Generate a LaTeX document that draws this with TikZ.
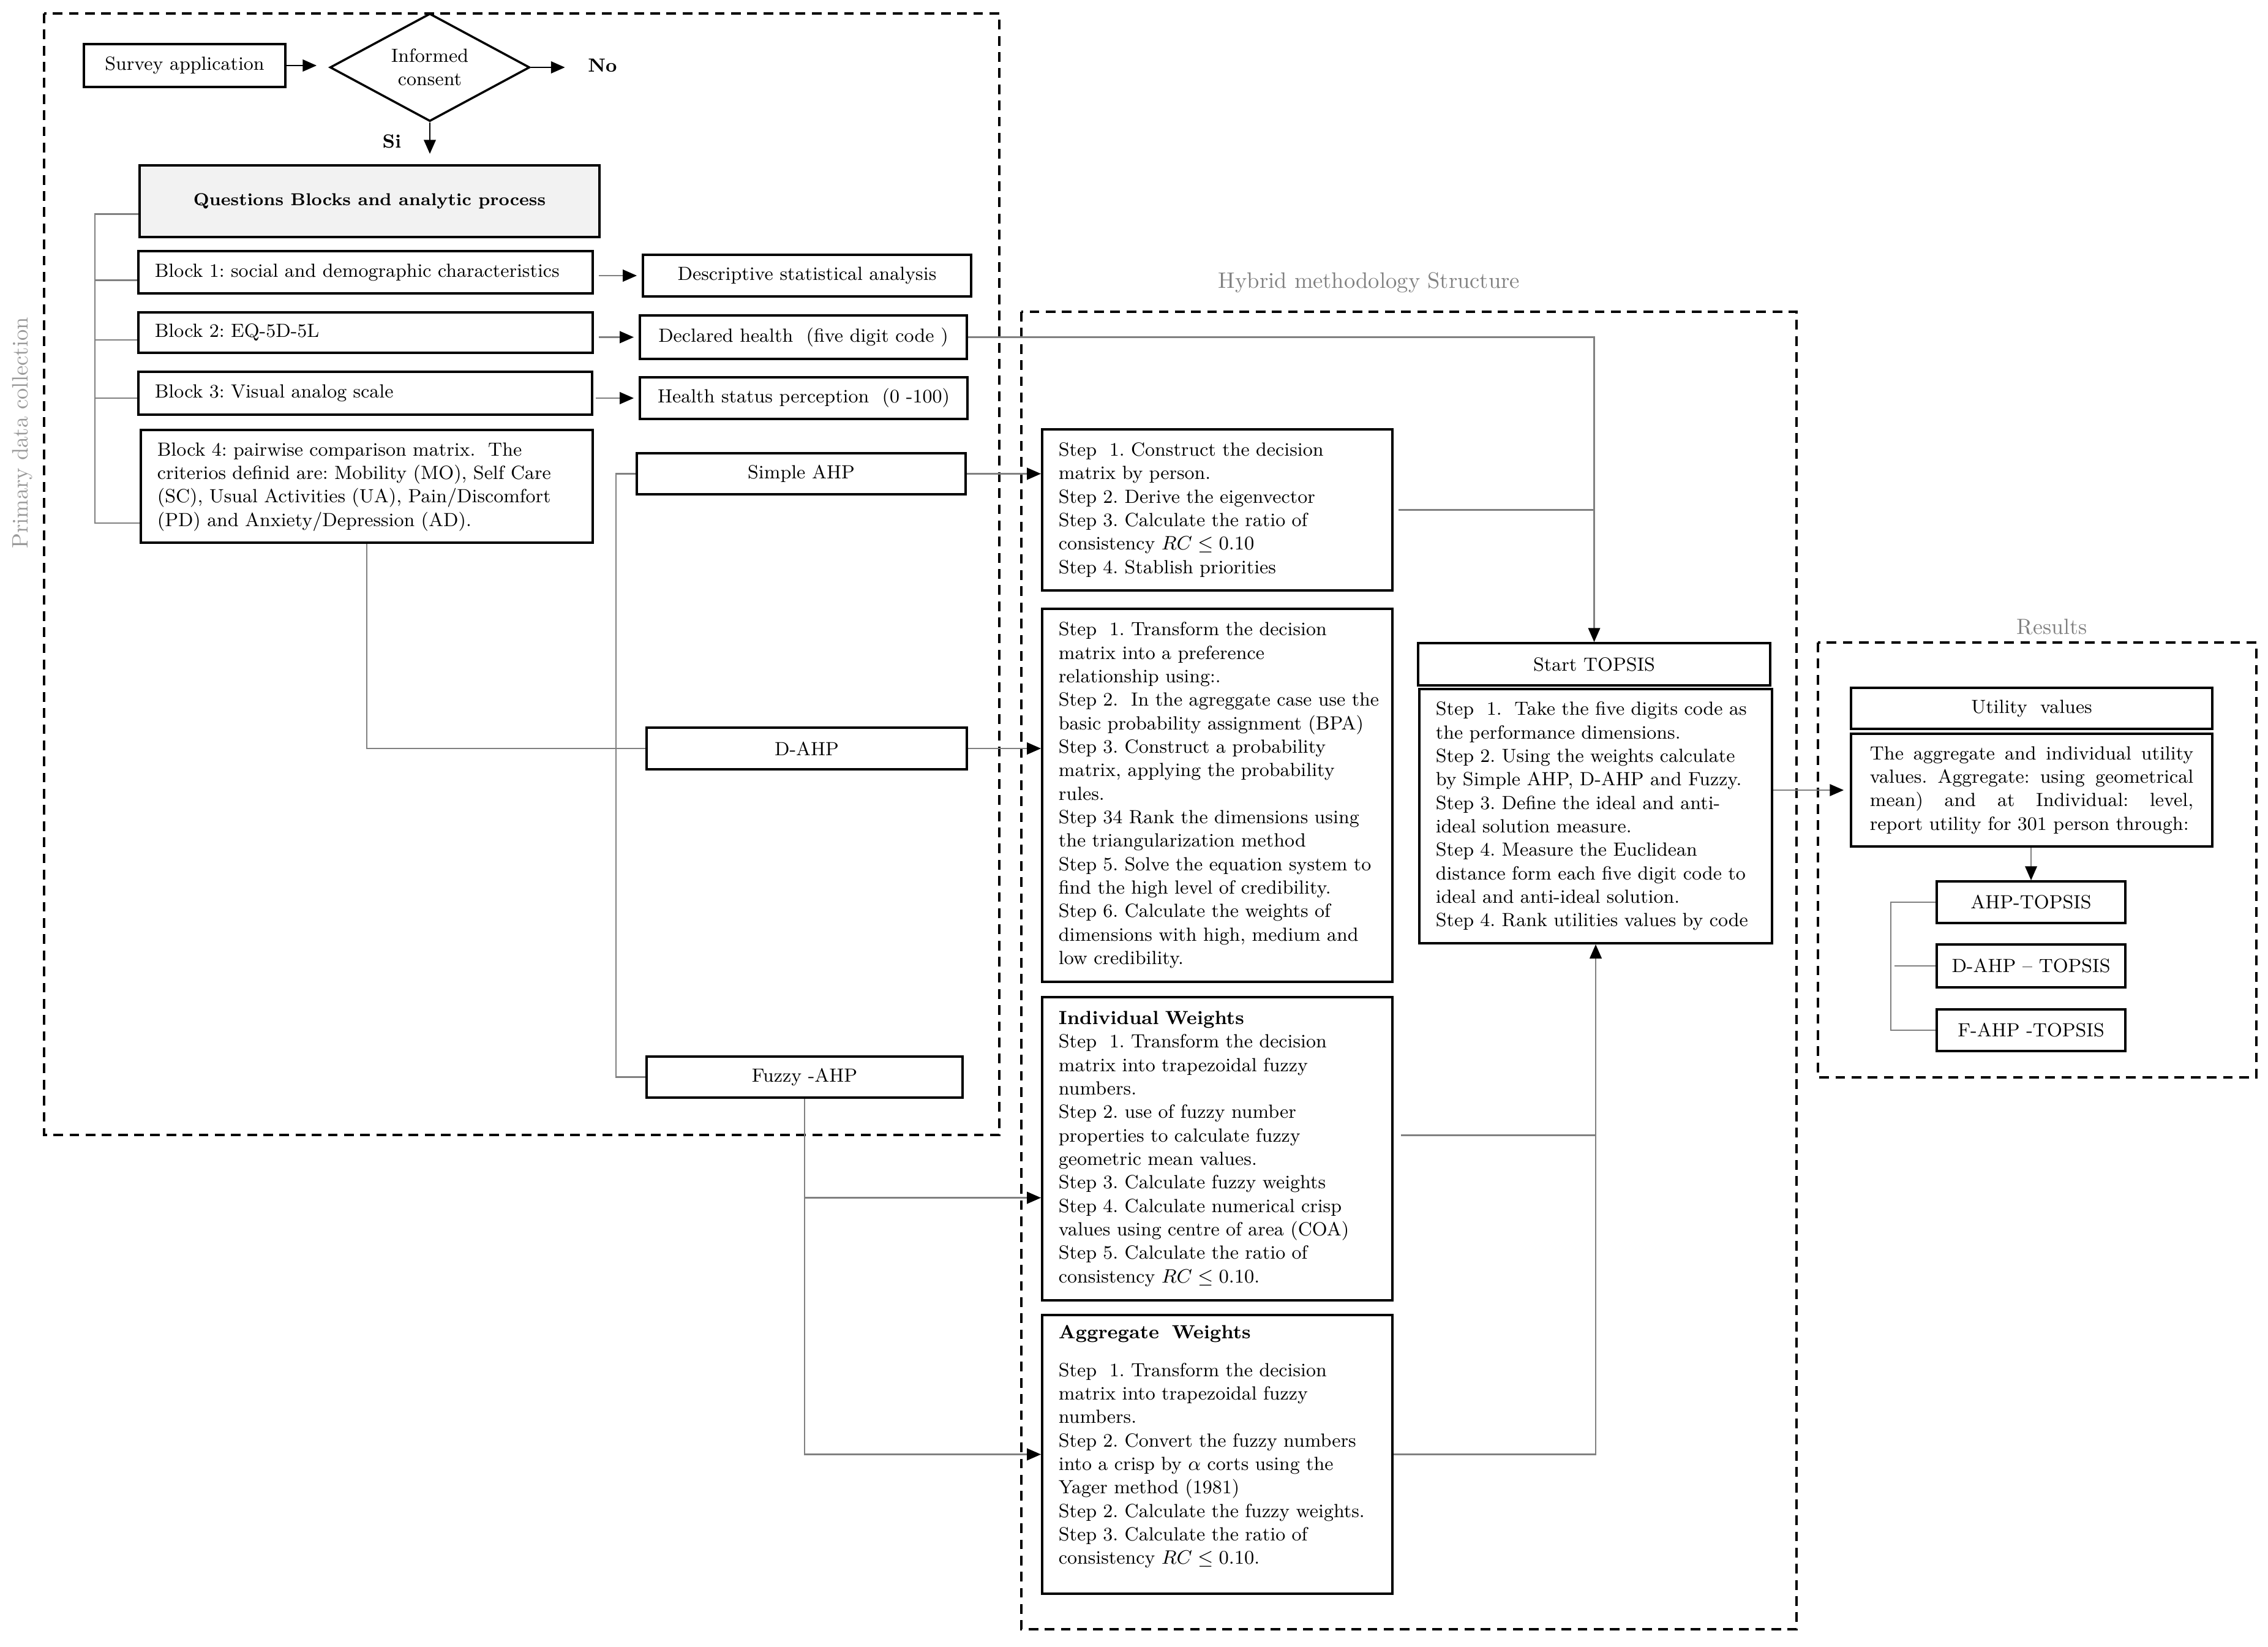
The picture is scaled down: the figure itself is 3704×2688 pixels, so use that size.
\documentclass[tikz,border=0pt]{standalone}
\usetikzlibrary{arrows.meta,shapes.geometric,calc}
\newcommand\fs{\fontsize{8.85}{10.9}\selectfont}
\newcommand\lns[1]{\begin{tabular}{@{}l@{}}#1\end{tabular}}
\begin{document}
\frenchspacing
\begin{tikzpicture}[x=0.01cm,y=-0.01cm,
 box/.style={draw=black, line width=1pt, inner sep=0pt, font=\fs, fill=white, align=center},
 lbox/.style={box, align=left, inner xsep=0.27cm, text width=#1},
 conn/.style={draw=black!50, line width=0.7pt},
 arr/.style={conn, -{Triangle[length=6.5pt,width=5.5pt,color=black]}},
 barr/.style={draw=black, line width=0.8pt, -{Triangle[length=6.5pt,width=5.5pt]}},
 frame/.style={draw=black, line width=0.9pt, dash pattern=on 4.5pt off 3pt},
 ttl/.style={text=black!50, inner sep=0pt, font=\fontsize{10.4}{12}\selectfont}
]
\useasboundingbox (0,0) rectangle (3704,2688);

% frames
\draw[frame] (72,22) rectangle (1632,1853);
\draw[frame] (1668,509) rectangle (2934,2660);
\draw[frame] (2969,1049) rectangle (3685,1759);
\node[ttl] (htitle) at (2236,461) {Hybrid methodology Structure};
\node[ttl, font=\fontsize{10.2}{12}\selectfont] (rtitle) at (3351,1023) {Results};
\node[ttl, text=black!40, rotate=90] (ptitle) at (37,707) {Primary data collection};

% primary data collection
\node[box, minimum width=3.29cm, minimum height=0.70cm] (survey) at (301.5,107) {Survey application};
\node[box, diamond, aspect=1.85, minimum width=3.26cm, minimum height=1.76cm] (consent) at (702,110) {Informed\\consent};
\node[font=\fs\bfseries, inner sep=0pt] (no) at (984,107) {No};
\node[font=\fs\bfseries, inner sep=0pt] (si) at (640,231) {Si};
\node[box, fill=black!5, font=\fontsize{8}{10}\selectfont\bfseries, minimum width=7.51cm, minimum height=1.17cm] (questions) at (603.5,328.5) {Questions Blocks and analytic process};

\node[lbox=6.88cm, minimum height=0.69cm] (block1) at (597,444.5) {\lns{Block 1: social and demographic characteristics}};
\node[lbox=6.88cm, minimum height=0.66cm] (block2) at (597,543) {\lns{Block 2: EQ-5D-5L}};
\node[lbox=6.87cm, minimum height=0.70cm] (block3) at (596.5,642) {\lns{Block 3: Visual analog scale}};
\node[lbox=6.84cm, minimum height=1.84cm] (block4) at (599,794) {\lns{Block 4: pairwise comparison matrix.~ The\\
criterios definid are: Mobility (MO), Self Care\\
(SC), Usual Activities (UA), Pain/Discomfort\\
(PD) and Anxiety/Depression (AD).}};

\node[box, minimum width=5.36cm, minimum height=0.68cm] (desc) at (1318,450) {Descriptive statistical analysis};
\node[box, minimum width=5.34cm, minimum height=0.71cm] (declared) at (1312,550.5) {Declared health~ (five digit code )};
\node[box, minimum width=5.35cm, minimum height=0.68cm] (health) at (1312.5,650) {Health status perception~ (0 -100)};
\node[box, minimum width=5.37cm, minimum height=0.67cm] (simple) at (1308.5,773.5) {Simple AHP};
\node[box, minimum width=5.23cm, minimum height=0.68cm] (dahp) at (1317.5,1222) {D-AHP};
\node[box, minimum width=5.16cm, minimum height=0.67cm] (fuzzy) at (1314,1758.5) {Fuzzy -AHP};

% hybrid methodology
\node[lbox=5.18cm, minimum height=2.63cm] (s1) at (1988,832.5) {\lns{Step~ 1. Construct the decision\\
matrix by person.\\
Step 2. Derive the eigenvector\\
Step 3. Calculate the ratio of\\
consistency $RC \leq 0.10$\\
Step 4. Stablish priorities}};
\node[lbox=5.18cm, minimum height=6.09cm] (s2) at (1988,1298.5) {\lns{Step~ 1. Transform the decision\\
matrix into a preference\\
relationship using:.\\
Step 2.~ In the agreggate case use the\\
basic probability assignment (BPA)\\
Step 3. Construct a probability\\
matrix, applying the probability\\
rules.\\
Step 34 Rank the dimensions using\\
the triangularization method\\
Step 5. Solve the equation system to\\
find the high level of credibility.\\
Step 6. Calculate the weights of\\
dimensions with high, medium and\\
low credibility.}};
\node[lbox=5.18cm, minimum height=4.95cm] (indiv) at (1988,1875.5) {\lns{\textbf{Individual Weights}\\
Step~ 1. Transform the decision\\
matrix into trapezoidal fuzzy\\
numbers.\\
Step 2. use of fuzzy number\\
properties to calculate fuzzy\\
geometric mean values.\\
Step 3. Calculate fuzzy weights\\
Step 4. Calculate numerical crisp\\
values using centre of area (COA)\\
Step 5. Calculate the ratio of\\
consistency $RC \leq 0.10$.}};
\node[lbox=5.18cm, minimum height=4.55cm] (agg) at (1988,2374.5) {\lns{\textbf{Aggregate~ Weights}\\[6.5pt]
Step~ 1. Transform the decision\\
matrix into trapezoidal fuzzy\\
numbers.\\
Step 2. Convert the fuzzy numbers\\
into a crisp by $\alpha$ corts using the\\
Yager method (1981)\\
Step 2. Calculate the fuzzy weights.\\
Step 3. Calculate the ratio of\\
consistency $RC \leq 0.10$.\\[7pt]}};
\node[box, minimum width=5.75cm, minimum height=0.69cm] (starttop) at (2603.5,1084.5) {Start TOPSIS};
\node[lbox=5.22cm, minimum height=4.15cm] (topsis) at (2606,1332.5) {\lns{Step~ 1.~ Take the five digits code as\\
the performance dimensions.\\
Step 2. Using the weights calculate\\
by Simple AHP, D-AHP and Fuzzy.\\
Step 3. Define the ideal and anti-\\
ideal solution measure.\\
Step 4. Measure the Euclidean\\
distance form each five digit code to\\
ideal and anti-ideal solution.\\
Step 4. Rank utilities values by code}};

% results
\node[box, minimum width=5.90cm, minimum height=0.67cm] (utilv) at (3318,1156.5) {Utility~ values};
\node[box, align=left, inner xsep=0.31cm, text width=5.28cm, minimum height=1.84cm] (utiltext) at (3318,1290) {\lns{\hbox to 5.28cm{The\hfill aggregate\hfill and\hfill individual\hfill utility}\\
\hbox to 5.28cm{values.\hfill Aggregate:\hfill using\hfill geometrical}\\
\hbox to 5.28cm{mean)\hfill and\hfill at\hfill Individual:\hfill level,}\\
report utility for 301 person through:}};
\node[box, minimum width=3.08cm, minimum height=0.68cm] (ahp) at (3317,1473) {AHP-TOPSIS};
\node[box, minimum width=3.08cm, minimum height=0.70cm] (dahpt) at (3317,1577) {D-AHP -- TOPSIS};
\node[box, minimum width=3.08cm, minimum height=0.68cm] (fahp) at (3317,1682) {F-AHP -TOPSIS};

% connectors: top row
\draw[barr, shorten >=0.2cm] (survey.east) -- (survey.east -| consent.west);
\draw[barr, shorten >=0.37cm] (consent.east) -- (consent.east -| no.west);
\draw[barr, shorten >=0.17cm] (consent.south) -- (consent.south |- questions.north);

% blocks to results
\draw[arr, shorten <=0.08cm, shorten >=0.08cm] (block1.east |- desc) -- (desc.west);
\draw[arr, shorten <=0.08cm, shorten >=0.08cm] (block2.east |- declared) -- (declared.west);
\draw[arr, shorten <=0.04cm, shorten >=0.08cm] (block3.east |- health) -- (health.west);

% left bracket
\coordinate (brk) at (155,0);
\coordinate (qs) at ([yshift=-0.21cm]questions.west);
\coordinate (b1s) at ([yshift=-0.13cm]block1.west);
\coordinate (b2s) at ([yshift=-0.12cm]block2.west);
\coordinate (b3s) at ([yshift=-0.08cm]block3.west);
\coordinate (b4s) at ([yshift=-0.60cm]block4.west);
\draw[conn] (qs) -- (brk |- qs) -- (brk |- b4s) -- (b4s);
\draw[conn] (brk |- b1s) -- (b1s);
\draw[conn] (brk |- b2s) -- (b2s);
\draw[conn] (brk |- b3s) -- (b3s);

% block 4 and methods
\draw[conn] (block4.south) |- (dahp.west);
\draw[conn] (simple.west) -- ++(-32,0) |- (fuzzy.west);
\draw[arr] (simple.east) -- (simple.east -| s1.west);
\draw[arr] (dahp.east) -- (dahp.east -| s2.west);
\coordinate (iin) at ([yshift=-0.80cm]indiv.west);
\draw[arr] (fuzzy.south) |- (agg.west);
\draw[arr] (fuzzy.south |- iin) -- (iin);

% into TOPSIS
\draw[arr] (declared.east) -| (starttop.north);
\draw[conn, shorten <=0.08cm] (s1.east) -- (s1.east -| starttop.north);
\coordinate (iout) at ([yshift=0.22cm]indiv.east);
\draw[conn, shorten <=0.12cm] (iout) -- (iout -| topsis.south);
\draw[arr] (agg.east) -| (topsis.south);

% results
\draw[arr, shorten >=0.1cm] (topsis.east |- utiltext.west) -- (utiltext.west);
\draw[arr] (utiltext.south -| ahp.north) -- (ahp.north);
\draw[conn] (ahp.west) -- ++(-73,0) |- (fahp.west);
\draw[conn] (dahpt.west) -- ++(-67,0);
\end{tikzpicture}
\end{document}
